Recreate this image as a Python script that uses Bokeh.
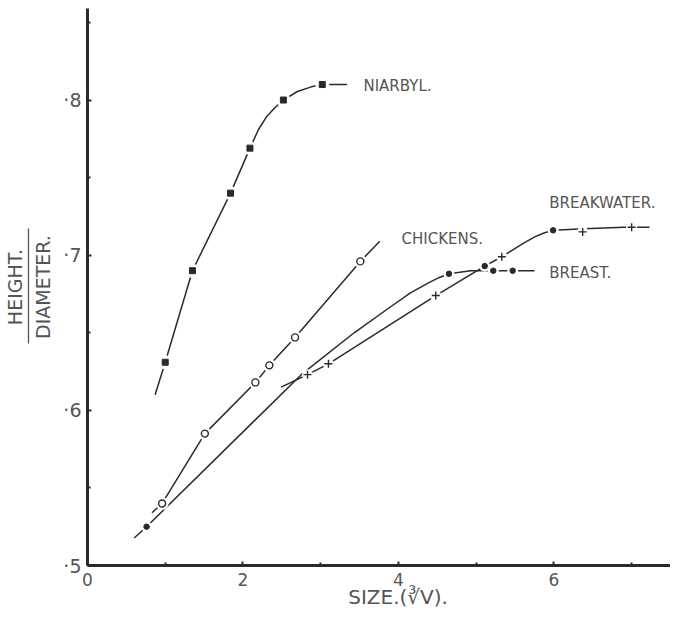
from bokeh.plotting import figure
from bokeh.models import FixedTicker, Range1d, Label, LinearAxis
from bokeh.embed import file_html
from bokeh.resources import INLINE

# ---------------- data ----------------
x_ticks = [0, 2, 4, 6]
x_minor = [1, 3, 5, 7]
y_ticks = [0.5, 0.6, 0.7, 0.8]
y_minor = [0.55, 0.65, 0.75, 0.85]
y_tick_labels = ["·5", "·6", "·7", "·8"]

niarbyl_x = [1.00, 1.35, 1.84, 2.09, 2.52, 3.02]
niarbyl_y = [0.631, 0.690, 0.740, 0.769, 0.800, 0.810]
niarbyl_curve_x = [0.87, 1.00, 1.35, 1.84, 2.09, 2.20, 2.30, 2.41, 2.52, 2.70, 2.88, 3.02, 3.34]
niarbyl_curve_y = [0.610, 0.631, 0.690, 0.740, 0.769, 0.781, 0.789, 0.795, 0.800, 0.8055, 0.8085, 0.810, 0.810]

chickens_x = [0.96, 1.51, 2.16, 2.34, 2.67, 3.51]
chickens_y = [0.540, 0.585, 0.618, 0.629, 0.647, 0.696]
chickens_curve_x = [0.83, 0.96, 1.51, 2.16, 2.34, 2.67, 3.51, 3.76]
chickens_curve_y = [0.534, 0.540, 0.585, 0.618, 0.629, 0.647, 0.696, 0.709]

breast_x = [0.76, 4.65, 5.22, 5.47]
breast_y = [0.525, 0.688, 0.690, 0.690]
breast_curve_x = [0.60, 0.76, 2.75, 3.43, 3.85, 4.15, 4.38, 4.52, 4.65, 4.93, 5.22, 5.47, 5.75]
breast_curve_y = [0.5177, 0.525, 0.623, 0.650, 0.665, 0.6755, 0.682, 0.6855, 0.688, 0.690, 0.690, 0.690, 0.690]

breakwater_x = [2.83, 3.10, 4.48, 5.11, 5.33, 5.99, 6.37, 7.00]
breakwater_y = [0.623, 0.630, 0.674, 0.693, 0.699, 0.716, 0.715, 0.718]
breakwater_markers = ["cross", "cross", "cross", "dot", "cross", "dot", "cross", "cross"]
breakwater_curve_x = [2.49, 2.83, 3.10, 4.48, 5.11, 5.33, 5.60, 5.76, 5.88, 5.99, 6.39, 6.90, 7.00, 7.23]
breakwater_curve_y = [0.615, 0.623, 0.630, 0.674, 0.693, 0.699, 0.7075, 0.712, 0.7145, 0.716, 0.717, 0.718, 0.718, 0.718]

series_names = ["NIARBYL.", "CHICKENS.", "BREAKWATER.", "BREAST."]
series_label_x = [3.55, 4.04, 5.94, 5.94]
series_label_y = [0.8093, 0.7103, 0.7335, 0.6885]
x_title = "SIZE.(∛V)."
y_title_top = "HEIGHT."
y_title_bottom = "DIAMETER."

# ---------------- styling ----------------
INK = "#2a2a2a"
TXT = "#555555"
FONT = "DejaVu Sans"

p = figure(width=670, height=611, x_range=Range1d(0, 7.5), y_range=Range1d(0.5, 0.859),
           output_backend="svg", toolbar_location=None,
           min_border_left=79, min_border_right=0, min_border_top=8, min_border_bottom=44)
p.outline_line_color = None
p.grid.grid_line_color = None
p.background_fill_color = "white"
p.border_fill_color = "white"

for ax in (p.xaxis[0], p.yaxis[0]):
    ax.axis_line_width = 3
    ax.axis_line_color = INK
    ax.major_tick_in = 4
    ax.major_tick_out = 0
    ax.minor_tick_in = 3
    ax.minor_tick_out = 0
    ax.major_tick_line_width = 2
    ax.minor_tick_line_width = 2
    ax.major_tick_line_color = INK
    ax.minor_tick_line_color = INK
    ax.major_label_text_font = FONT
    ax.major_label_text_color = TXT

p.yaxis.major_label_text_font_size = "19px"
p.yaxis.major_label_standoff = 6
p.xaxis.major_label_text_font_size = "17px"
p.xaxis.major_label_standoff = 7

p.xaxis.ticker = FixedTicker(ticks=x_ticks, minor_ticks=x_minor)
p.yaxis.ticker = FixedTicker(ticks=y_ticks, minor_ticks=y_minor)
p.yaxis.major_label_overrides = {t: s for t, s in zip(y_ticks, y_tick_labels)}


def title_axis(label, bounds, line, standoff, size):
    a = LinearAxis(ticker=FixedTicker(ticks=[]), axis_label=label, bounds=bounds)
    a.axis_line_color = TXT if line else None
    a.axis_line_width = 1.3
    a.major_tick_in = 0
    a.major_tick_out = 0
    a.minor_tick_in = 0
    a.minor_tick_out = 0
    a.major_label_text_font_size = "0px"
    a.major_label_standoff = 0
    a.axis_label_text_font = FONT
    a.axis_label_text_font_size = size
    a.axis_label_text_font_style = "normal"
    a.axis_label_text_color = TXT
    a.axis_label_standoff = standoff
    return a


# y title as a fraction: DIAMETER. nearest to the axis, then the bar + HEIGHT.
p.add_layout(title_axis(y_title_bottom, (0.643, 0.717), False, 7, "19px"), "left")
p.add_layout(title_axis(y_title_top, (0.643, 0.717), True, 3, "19px"), "left")
# x title (leading no-break spaces nudge the centred title to the right, as in the original)
p.add_layout(title_axis("\u00a0" * 6 + x_title, (0.5, 7.5), False, -4, "20px"), "below")

# curves
for cx, cy in [(niarbyl_curve_x, niarbyl_curve_y), (chickens_curve_x, chickens_curve_y),
               (breast_curve_x, breast_curve_y), (breakwater_curve_x, breakwater_curve_y)]:
    p.line(cx, cy, line_color=INK, line_width=1.5)

# white halos that break the lines around the points
p.scatter(niarbyl_x, niarbyl_y, marker="circle", size=14, fill_color="white", line_color=None)
p.scatter(chickens_x, chickens_y, marker="circle", size=13, fill_color="white", line_color=None)
p.scatter(breast_x, breast_y, marker="circle", size=11, fill_color="white", line_color=None)
p.scatter(breakwater_x, breakwater_y, marker="circle", size=11, fill_color="white", line_color=None)

# markers
p.scatter(niarbyl_x, niarbyl_y, marker="square", size=6, fill_color=INK, line_color=INK)
p.scatter(chickens_x, chickens_y, marker="circle", size=7, fill_color="white", line_color=INK, line_width=1.4)
p.scatter(breast_x, breast_y, marker="circle", size=5.5, fill_color=INK, line_color=INK)
bx_c = [x for x, m in zip(breakwater_x, breakwater_markers) if m == "cross"]
by_c = [y for y, m in zip(breakwater_y, breakwater_markers) if m == "cross"]
bx_d = [x for x, m in zip(breakwater_x, breakwater_markers) if m == "dot"]
by_d = [y for y, m in zip(breakwater_y, breakwater_markers) if m == "dot"]
p.scatter(bx_c, by_c, marker="cross", size=8, line_color=INK, line_width=1.4)
p.scatter(bx_d, by_d, marker="circle", size=5.5, fill_color=INK, line_color=INK)

# series labels
for lx, ly, name in zip(series_label_x, series_label_y, series_names):
    p.add_layout(Label(x=lx, y=ly, text=name, text_align="left", text_baseline="middle",
                       text_font=FONT, text_font_size="15px", text_color=TXT))

open("out.html", "w").write(file_html(p, INLINE))
